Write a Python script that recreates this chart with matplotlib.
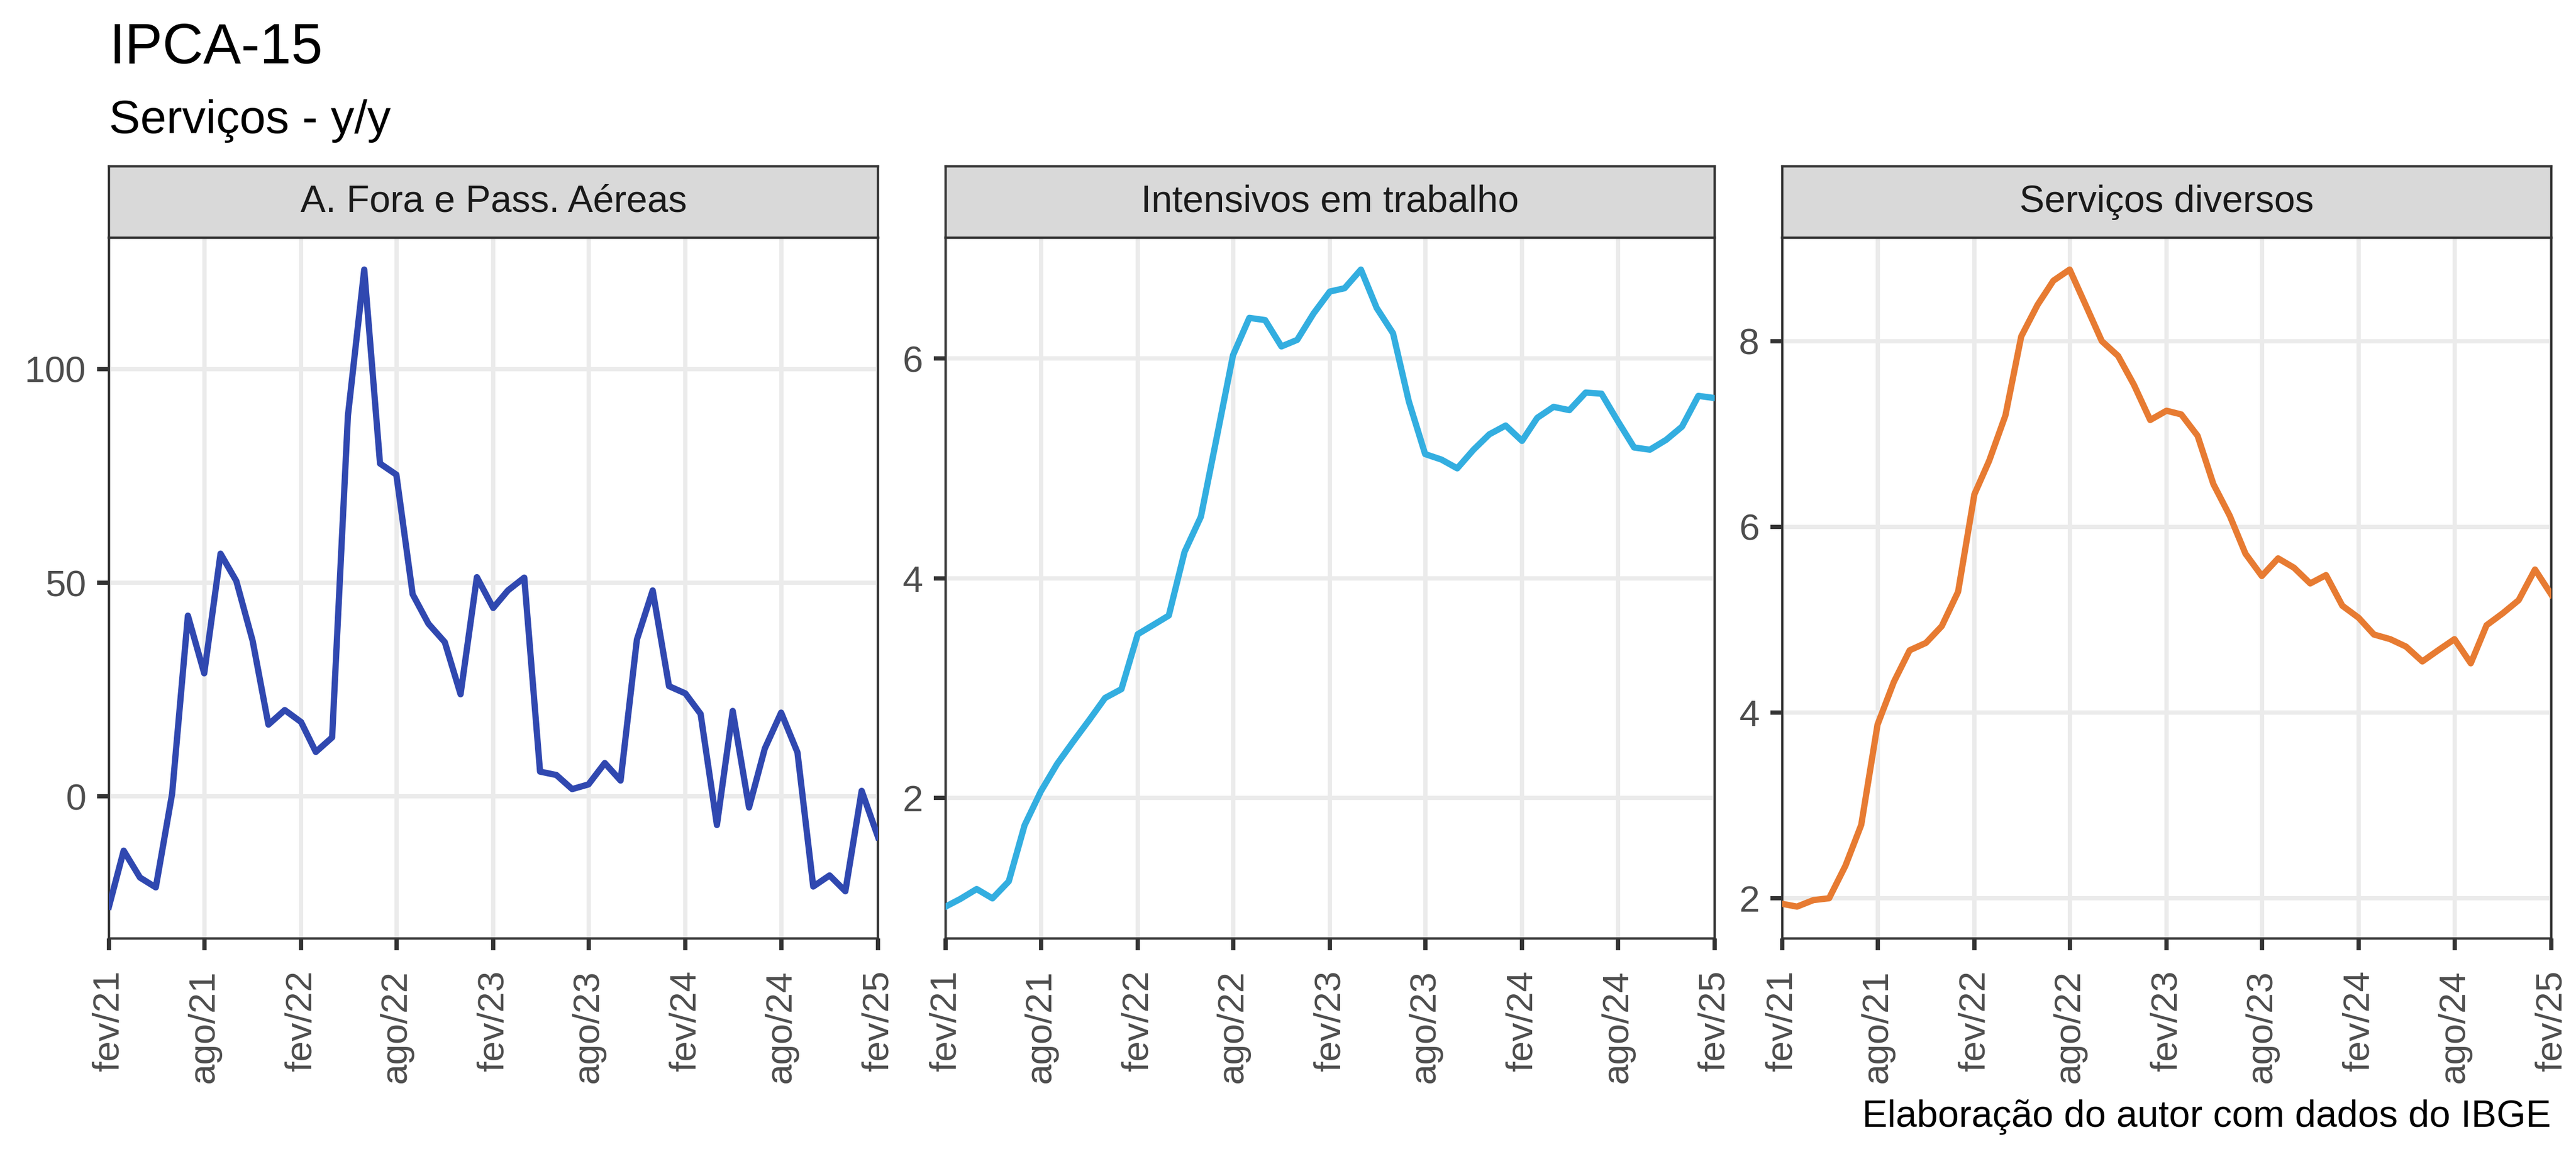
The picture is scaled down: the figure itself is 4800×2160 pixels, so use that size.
import matplotlib
matplotlib.use("Agg")
import matplotlib.pyplot as plt
from matplotlib.ticker import MultipleLocator
import pandas as pd

plt.rcParams["font.family"] = ["Liberation Sans", "DejaVu Sans"]

# dados (y/y, %) de fev/21 a fev/25
meses = pd.date_range("2021-02-01", periods=49, freq="MS")

fora_aereas = [-25.8, -12.7, -19.0, -21.3, 0.6, 42.3, 28.8, 56.8, 50.4, 36.4,
               16.8, 20.2, 17.4, 10.4, 13.8, 89.1, 123.3, 77.9, 75.3, 47.3,
               40.4, 36.1, 23.9, 51.3, 44.1, 48.2, 51.2, 5.8, 5.0, 1.7,
               2.8, 7.8, 3.7, 36.7, 48.2, 25.8, 24.1, 19.3, -6.7, 20.0,
               -2.6, 11.2, 19.6, 10.3, -21.1, -18.5, -22.2, 1.3, -9.5]

intensivos = [1.01, 1.08, 1.17, 1.085, 1.24, 1.75, 2.06, 2.31, 2.51, 2.71,
              2.91, 2.99, 3.49, 3.57, 3.66, 4.24, 4.56, 5.28, 6.03, 6.37,
              6.35, 6.11, 6.17, 6.41, 6.61, 6.64, 6.81, 6.46, 6.23, 5.61,
              5.13, 5.08, 5.00, 5.17, 5.31, 5.39, 5.25, 5.46, 5.56, 5.53,
              5.69, 5.68, 5.43, 5.19, 5.17, 5.26, 5.38, 5.66, 5.64]

diversos = [1.94, 1.91, 1.98, 2.00, 2.35, 2.79, 3.87, 4.33, 4.67, 4.75,
            4.93, 5.30, 6.35, 6.71, 7.20, 8.05, 8.39, 8.65, 8.77, 8.38,
            8.00, 7.84, 7.53, 7.15, 7.25, 7.21, 6.98, 6.46, 6.12, 5.71,
            5.47, 5.66, 5.56, 5.39, 5.48, 5.15, 5.02, 4.84, 4.79, 4.71,
            4.55, 4.67, 4.79, 4.53, 4.94, 5.07, 5.21, 5.54, 5.27]

paineis = ["A. Fora e Pass. Aéreas", "Intensivos em trabalho", "Serviços diversos"]
series = [fora_aereas, intensivos, diversos]
cores = ["#3048B0", "#33AEE0", "#E77B32"]
passo_y = [50, 2, 2]

rotulos_x = ["fev/21", "ago/21", "fev/22", "ago/22", "fev/23",
             "ago/23", "fev/24", "ago/24", "fev/25"]
ticks_x = meses[::6]

W, H = 4800, 2160
fig = plt.figure(figsize=(16, 7.2), dpi=300)

lefts = [203, 1762, 3321]
pw = 1433
p_top, p_bot = 443, 1749
s_top = 310

for left, nome, vals, cor, passo in zip(lefts, paineis, series, cores, passo_y):
    ax = fig.add_axes([left / W, (H - p_bot) / H, pw / W, (p_bot - p_top) / H])
    ax.plot(meses, vals, color=cor, lw=2.8, solid_joinstyle="round", zorder=3)
    ax.set_xlim(meses[0], meses[-1])
    ax.margins(y=0.05)
    ax.yaxis.set_major_locator(MultipleLocator(passo))
    ax.set_xticks(ticks_x)
    ax.set_xticklabels(rotulos_x, rotation=90, va="top", ha="center")
    ax.grid(True, color="#EBEBEB", lw=1.9, zorder=0)
    ax.set_axisbelow(True)
    for sp in ax.spines.values():
        sp.set_color("#333333")
        sp.set_linewidth(1.05)
    ax.tick_params(axis="both", length=5.2, width=1.9, color="#333333",
                   labelcolor="#4D4D4D", labelsize=16.5)
    ax.tick_params(axis="x", pad=9)
    ax.tick_params(axis="y", pad=5)

    st = fig.add_axes([left / W, (H - p_top) / H, pw / W, (p_top - s_top) / H])
    st.set_facecolor("#D9D9D9")
    st.set_xticks([])
    st.set_yticks([])
    for sp in st.spines.values():
        sp.set_color("#333333")
        sp.set_linewidth(1.05)
    st.text(0.5, 0.5, nome, ha="center", va="center", fontsize=16.8,
            color="#1A1A1A", transform=st.transAxes)

fig.text(203 / W, 1 - 118 / H, "IPCA-15", fontsize=25.3, va="baseline", ha="left")
fig.text(203 / W, 1 - 248 / H, "Serviços - y/y", fontsize=21, va="baseline", ha="left")
fig.text(4753 / W, 1 - 2100 / H, "Elaboração do autor com dados do IBGE",
         fontsize=16.9, va="baseline", ha="right")

fig.savefig("out.png", dpi=300, facecolor="white")
